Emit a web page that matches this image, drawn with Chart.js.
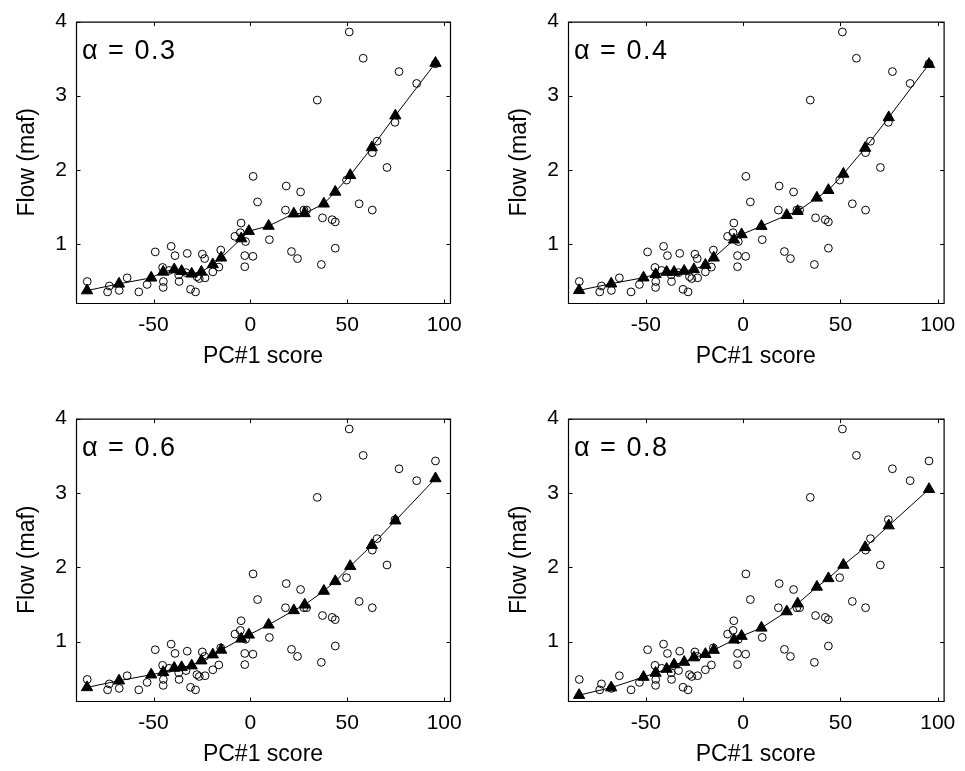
<!DOCTYPE html>
<html><head><meta charset="utf-8">
<script src="https://cdn.jsdelivr.net/npm/chart.js@4"></script>
<style>
html,body{margin:0;padding:0;background:#fff;}
body{width:965px;height:771px;position:relative;overflow:hidden;}
canvas{position:absolute;}
</style></head><body>
<canvas id="c0"></canvas><canvas id="c1"></canvas><canvas id="c2"></canvas><canvas id="c3"></canvas>
<script>
// Observed flows (circles) – same in every panel
const obsX = [-84.2,-73.7,-72.8,-67.7,-63.6,-57.6,-53.3,-49.1,-45.0,-44.9,-45.3,-40.9,-38.9,-41.9,-36.8,-32.6,-33.2,-30.9,-28.3,-26.4,-24.8,-23.6,-23.4,-19.4,-16.3,-15.3,-8.0,-4.8,-5.2,-2.5,-2.9,-2.9,1.3,1.4,3.7,9.8,18.1,18.5,21.2,24.3,25.9,27.6,29.0,34.5,36.6,37.2,42.2,43.8,43.8,49.6,51.0,56.1,58.2,62.9,65.4,62.9,70.5,74.6,76.7,85.8,95.5,-37.0,-27.6];
const obsY = [0.49,0.35,0.43,0.37,0.54,0.35,0.45,0.89,0.41,0.49,0.68,0.965,0.84,0.64,0.49,0.87,0.61,0.385,0.35,0.53,0.86,0.80,0.54,0.62,0.685,0.915,1.10,1.28,1.15,1.03,0.84,0.69,0.83,1.91,1.565,1.055,1.455,1.78,0.895,0.80,1.70,1.455,1.455,2.94,0.72,1.35,1.325,1.295,0.94,1.86,3.86,1.54,3.505,2.23,2.385,1.455,2.03,2.64,3.325,3.165,3.43,0.58,0.555];

// Fitted values (triangles) for each alpha
const fitX = [-84.3,-67.8,-51.2,-45.0,-39.3,-35.5,-30.3,-25.3,-19.4,-15.1,-4.7,-0.8,9.4,22.4,28.0,37.9,43.8,51.5,62.7,74.8,95.5];
const fitY03 = [0.368,0.459,0.54,0.62,0.653,0.63,0.594,0.62,0.72,0.81,1.07,1.17,1.24,1.406,1.41,1.54,1.70,1.925,2.30,2.73,3.44];
const fitY04 = [0.371,0.461,0.542,0.587,0.618,0.618,0.632,0.654,0.713,0.811,1.054,1.126,1.238,1.386,1.44,1.62,1.723,1.943,2.293,2.706,3.425];
const fitY06 = [0.383,0.473,0.554,0.586,0.644,0.653,0.676,0.743,0.824,0.887,1.036,1.09,1.225,1.419,1.495,1.68,1.81,2.014,2.297,2.626,3.194];
const fitY08 = [0.279,0.38,0.522,0.577,0.63,0.69,0.724,0.784,0.83,0.885,1.023,1.073,1.184,1.404,1.51,1.735,1.85,2.03,2.268,2.56,3.05];

const alphaLabels = ['0.3','0.4','0.6','0.8'];
const xTicks = [-50,0,50,100];
const yTicks = [1,2,3,4];
const xLabel = 'PC#1 score';
const yLabel = 'Flow (maf)';

const fitSeries = [fitY03, fitY04, fitY06, fitY08];
const FAM = '"Liberation Sans", Arial, Helvetica, sans-serif';

// panel geometry: canvas [left, top, w, h], plot area [left, top, right, bottom] (page px)
const panels = [
  {canvas:[0,0,482,373],   area:[76,20,450,303]},
  {canvas:[492,0,473,373], area:[568,20,945,303]},
  {canvas:[0,397,482,374], area:[76,418,450,701]},
  {canvas:[492,397,473,374], area:[568,418,945,701]}
];

const framePlugin = {
  id:'frame',
  afterDraw(chart, args, opts){
    const {ctx, chartArea:a, scales} = chart;
    const x = scales.x, y = scales.y;
    ctx.save();
    ctx.strokeStyle = '#000';
    ctx.lineWidth = 1.2;
    ctx.beginPath();
    ctx.rect(a.left+0.5, a.top+0.5, a.right-a.left, a.bottom-a.top);
    ctx.stroke();
    ctx.lineWidth = 1;
    const tl = 4;
    ctx.beginPath();
    xTicks.forEach(v=>{
      const p = Math.round(x.getPixelForValue(v))+0.5;
      ctx.moveTo(p, a.bottom+0.5); ctx.lineTo(p, a.bottom+0.5-tl);
      ctx.moveTo(p, a.top+0.5); ctx.lineTo(p, a.top+0.5+tl);
    });
    yTicks.forEach(v=>{
      const p = Math.round(y.getPixelForValue(v))+0.5;
      ctx.moveTo(a.left+0.5, p); ctx.lineTo(a.left+0.5+tl, p);
      ctx.moveTo(a.right+0.5, p); ctx.lineTo(a.right+0.5-tl, p);
    });
    ctx.stroke();
    ctx.fillStyle = '#000';
    ctx.font = '27px ' + FAM;
    ctx.letterSpacing = '1.5px';
    ctx.textBaseline = 'alphabetic';
    ctx.textAlign = 'left';
    ctx.fillText('\u03B1 = ' + opts.label, a.left+6, a.top+37);
    ctx.restore();
  }
};

panels.forEach((pn, i)=>{
  const cv = document.getElementById('c'+i);
  const [cl, ct, cw, ch] = pn.canvas;
  const [al, at, ar, ab] = pn.area;
  cv.style.left = cl+'px'; cv.style.top = ct+'px';
  cv.width = cw; cv.height = ch;
  cv.style.width = cw+'px'; cv.style.height = ch+'px';
  const yW = al - cl;
  const xH = (ct+ch) - ab;
  const padTop = at - ct;
  const padRight = (cl+cw) - ar;
  const fitY = fitSeries[i];
  const titleCenter = (ab - ct) + 53.5;
  const titlePadBottom = ch - titleCenter - 13.8;
  new Chart(cv, {
    type:'scatter',
    data:{
      datasets:[
        {
          type:'line',
          data: fitX.map((v,k)=>({x:v, y:fitY[k]})),
          borderColor:'#000', borderWidth:1, tension:0, fill:false,
          pointStyle:'triangle', pointRadius:6.5, pointBackgroundColor:'#000',
          pointBorderColor:'#000', pointBorderWidth:1, pointHoverRadius:6.5,
          clip:false
        },
        {
          type:'scatter',
          data: obsX.map((v,k)=>({x:v, y:obsY[k]})),
          showLine:false,
          pointStyle:'circle', pointRadius:3.9, pointHoverRadius:3.9,
          pointBackgroundColor:'rgba(0,0,0,0)', pointBorderColor:'#000', pointBorderWidth:1,
          clip:false
        }
      ]
    },
    options:{
      responsive:false, animation:false, devicePixelRatio:1,
      events:[],
      layout:{padding:{left:0, top:padTop, right:padRight, bottom:0}, autoPadding:false},
      plugins:{legend:{display:false}, tooltip:{enabled:false}, frame:{label:alphaLabels[i]}},
      scales:{
        x:{
          type:'linear', min:-90, max:103,
          afterBuildTicks:s=>{ s.ticks = xTicks.map(v=>({value:v})); },
          grid:{display:false, drawTicks:false}, border:{display:false},
          ticks:{color:'#000', font:{size:21, family:FAM}, padding:9.4, maxRotation:0, autoSkip:false},
          title:{display:true, text:xLabel, color:'#000', font:{size:23, family:FAM}, padding:{top:0, bottom:titlePadBottom}},
          afterFit:s=>{ s.height = xH; }
        },
        y:{
          type:'linear', min:0.2, max:4,
          afterBuildTicks:s=>{ s.ticks = yTicks.map(v=>({value:v})); },
          grid:{display:false, drawTicks:false}, border:{display:false},
          ticks:{color:'#000', font:{size:21, family:FAM}, padding:9, autoSkip:false},
          title:{display:true, text:yLabel, color:'#000', font:{size:23, family:FAM}, padding:{top:14, bottom:0}},
          afterFit:s=>{ s.width = yW; }
        }
      }
    },
    plugins:[framePlugin]
  });
});
</script>
</body></html>
